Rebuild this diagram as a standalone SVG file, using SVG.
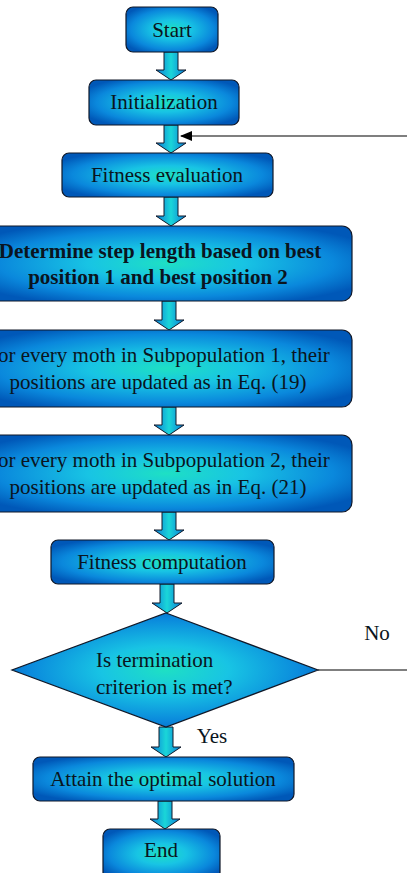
<svg xmlns="http://www.w3.org/2000/svg" width="407" height="873" viewBox="0 0 407 873">
<defs>
<radialGradient id="g" cx="0.5" cy="0.5" r="0.6">
<stop offset="0" stop-color="#1ee0c4"/>
<stop offset="0.35" stop-color="#18c4e4"/>
<stop offset="0.75" stop-color="#0a88dc"/>
<stop offset="1" stop-color="#0058b8"/>
</radialGradient>
<linearGradient id="ga" x1="0" y1="0" x2="1" y2="0">
<stop offset="0" stop-color="#0a7ad8"/>
<stop offset="0.5" stop-color="#1ad6d8"/>
<stop offset="1" stop-color="#0a7ad8"/>
</linearGradient>
<marker id="ah" markerWidth="12" markerHeight="10" refX="11" refY="5" orient="auto" markerUnits="userSpaceOnUse">
<path d="M0,0 L12,5 L0,10 z" fill="#000"/>
</marker>
</defs>
<style>
.box{fill:url(#g);stroke:#101828;stroke-width:1.2}
.blk{fill:url(#ga);stroke:#101828;stroke-width:1}
.t{font-family:"Liberation Serif",serif;font-size:21px;fill:#0a1420;text-anchor:middle}
.b{font-weight:bold}
.l{text-anchor:start}
.ln{stroke:#000;stroke-width:1.2;fill:none}
</style>
<g id="connectors">
<path class="blk" d="M164,52 h14 v18 h8 l-15,10 l-15,-10 h8 z"/>
<path class="blk" d="M164,125 h14 v18 h8 l-15,10 l-15,-10 h8 z"/>
<path class="blk" d="M164,197 h14 v19 h8 l-15,10 l-15,-10 h8 z"/>
<path class="blk" d="M162,301 h14 v19 h8 l-15,10 l-15,-10 h8 z"/>
<path class="blk" d="M162,407 h14 v18 h8 l-15,10 l-15,-10 h8 z"/>
<path class="blk" d="M162,512 h14 v18 h8 l-15,10 l-15,-10 h8 z"/>
<path class="blk" d="M160,584 h14 v19 h8 l-15,10 l-15,-10 h8 z"/>
<path class="blk" d="M159,727 h14 v20 h8 l-15,10 l-15,-10 h8 z"/>
<path class="blk" d="M158,801 h14 v18 h8 l-15,10 l-15,-10 h8 z"/>
<line class="ln" x1="407" y1="136" x2="181" y2="136" marker-end="url(#ah)"/>
<line class="ln" x1="318" y1="670" x2="407" y2="670"/>
<text class="t" x="377" y="640">No</text>
<text class="t" x="212" y="743">Yes</text>
</g>
<g id="start">
<rect class="box" x="126" y="7" width="92" height="45" rx="7"/>
<text class="t" x="172" y="37">Start</text>
</g>
<g id="init">
<rect class="box" x="89" y="80" width="150" height="45" rx="7"/>
<text class="t" x="164" y="109">Initialization</text>
</g>
<g id="fiteval">
<rect class="box" x="62" y="153" width="211" height="44" rx="7"/>
<text class="t" x="167" y="182">Fitness evaluation</text>
</g>
<g id="steplen">
<rect class="box" x="-20" y="226" width="372" height="75" rx="10"/>
<text class="t b" x="160" y="258">Determine step length based on best</text>
<text class="t b" x="158" y="284">position 1 and best position 2</text>
</g>
<g id="sub1">
<rect class="box" x="-20" y="330" width="372" height="77" rx="10"/>
<text class="t" x="158" y="362">For every moth in Subpopulation 1, their</text>
<text class="t" x="158" y="389">positions are updated as in Eq. (19)</text>
</g>
<g id="sub2">
<rect class="box" x="-20" y="435" width="372" height="77" rx="10"/>
<text class="t" x="158" y="467">For every moth in Subpopulation 2, their</text>
<text class="t" x="158" y="494">positions are updated as in Eq. (21)</text>
</g>
<g id="fitcomp">
<rect class="box" x="51" y="540" width="223" height="44" rx="7"/>
<text class="t" x="162" y="569">Fitness computation</text>
</g>
<g id="decision">
<polygon class="box" points="166,613 318,670 166,727 12,670"/>
<text class="t l" x="96" y="667">Is termination</text>
<text class="t l" x="96" y="694">criterion is met?</text>
</g>
<g id="attain">
<rect class="box" x="33" y="757" width="261" height="44" rx="7"/>
<text class="t" x="163" y="786">Attain the optimal solution</text>
</g>
<g id="end">
<rect class="box" x="103" y="829" width="117" height="50" rx="7"/>
<text class="t" x="161" y="857">End</text>
</g>
</svg>
